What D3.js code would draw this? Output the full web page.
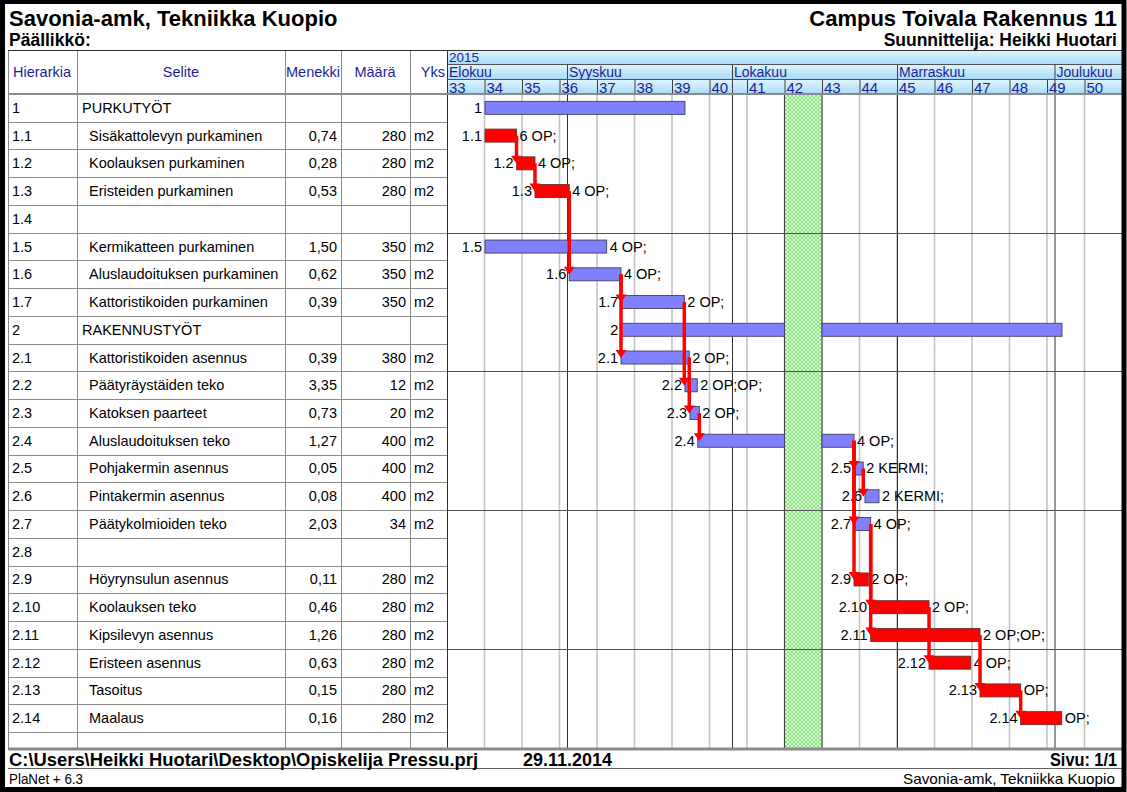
<!DOCTYPE html>
<html><head><meta charset="utf-8">
<script src="https://cdn.jsdelivr.net/npm/d3@7"></script>
<style>
body{margin:0;background:#fff}
svg{display:block}
text{font-family:"Liberation Sans",Arial,Helvetica,sans-serif}
</style>
</head><body>
<svg id="c" width="1127" height="792"></svg>
<script>
// ---------- DATA ----------
const hierarchy = ["1","1.1","1.2","1.3","1.4","1.5","1.6","1.7","2","2.1","2.2","2.3","2.4","2.5","2.6","2.7","2.8","2.9","2.10","2.11","2.12","2.13","2.14"];
const descriptions = ["PURKUTYÖT","Sisäkattolevyn purkaminen","Koolauksen purkaminen","Eristeiden purkaminen","","Kermikatteen purkaminen","Aluslaudoituksen purkaminen","Kattoristikoiden purkaminen","RAKENNUSTYÖT","Kattoristikoiden asennus","Päätyräystäiden teko","Katoksen paarteet","Aluslaudoituksen teko","Pohjakermin asennus","Pintakermin asennus","Päätykolmioiden teko","","Höyrynsulun asennus","Koolauksen teko","Kipsilevyn asennus","Eristeen asennus","Tasoitus","Maalaus"];
const consumption = ["","0,74","0,28","0,53","","1,50","0,62","0,39","","0,39","3,35","0,73","1,27","0,05","0,08","2,03","","0,11","0,46","1,26","0,63","0,15","0,16"];
const quantities = ["","280","280","280","","350","350","350","","380","12","20","400","400","400","34","","280","280","280","280","280","280"];
const units = ["","m2","m2","m2","","m2","m2","m2","","m2","m2","m2","m2","m2","m2","m2","","m2","m2","m2","m2","m2","m2"];
const summaryRows = ["1","2"];
// bar start / end in working days counted from Monday of week 33
const barStart = [5.07,5.07,9.29,11.73,null,5.07,16.3,23.24,23.24,23.2,31.73,32.4,33.43,54.27,55.73,54.27,null,54.27,56.4,56.49,64.27,71.07,76.49];
const barEnd   = [31.73,9.27,11.73,16.3,null,21.29,23.2,31.64,82.0,32.3,33.37,33.64,54.27,55.5,57.6,56.49,null,56.17,64.27,71.07,69.83,76.49,81.96];
const barKind  = ["s","c","c","c","","n","n","n","s","n","n","n","n","n","n","n","","c","c","c","c","c","c"];
const rightLabels = ["","6 OP;","4 OP;","4 OP;","","4 OP;","4 OP;","2 OP;","","2 OP;","2 OP;OP;","2 OP;","4 OP;","2 KERMI;","2 KERMI;","4 OP;","","2 OP;","2 OP;","2 OP;OP;","4 OP;","OP;","OP;"];
const linkFrom = ["1.1","1.2","1.3","1.6","1.6","1.7","2.1","2.3","2.4","2.4","2.4","2.5","2.7","2.7","2.10","2.11","2.13"];
const linkTo   = ["1.2","1.3","1.6","1.7","2.1","2.2","2.3","2.4","2.5","2.7","2.9","2.6","2.10","2.11","2.12","2.13","2.14"];
const weeks = [33,34,35,36,37,38,39,40,41,42,43,44,45,46,47,48,49,50];
const monthNames = ["Elokuu","Syyskuu","Lokakuu","Marraskuu","Joulukuu"];
const monthStartDay = [0,16,38,60,81];
const yearLabel = "2015";
const holidayDays = [45,50];
const columnHeaders = ["Hierarkia","Selite","Menekki","Määrä","Yks"];

// ---------- LAYOUT ----------
const W = 1127, H = 792;
const svg = d3.select("#c");
const GX0 = 447, GX1 = 1122;
const HEAD_TOP = 50, BODY_TOP = 94, ROW_H = 27.74, BODY_BOT = 748;
const colX = [8, 77, 285, 341, 410, 447];
const navy = "#1e1e96";

const x = d3.scaleLinear().domain([0, weeks.length * 5]).range([GX0, GX1]);
const y = d3.scaleBand().domain(hierarchy).range([BODY_TOP, BODY_TOP + hierarchy.length * ROW_H]);
const yc = id => y(id) + y.bandwidth() / 2;
const rows = hierarchy.map((h, i) => ({
  id: h, desc: descriptions[i], men: consumption[i], qty: quantities[i], unit: units[i],
  s: barStart[i], e: barEnd[i], kind: barKind[i], rl: rightLabels[i]
}));

const defs = svg.append("defs");
const gr = defs.append("linearGradient").attr("id","hdr").attr("x1",0).attr("y1",0).attr("x2",0).attr("y2",1);
gr.append("stop").attr("offset","0%").attr("stop-color","#e2f5fe");
gr.append("stop").attr("offset","100%").attr("stop-color","#a9dcf7");
const pat = defs.append("pattern").attr("id","hatch").attr("width",4).attr("height",4).attr("patternUnits","userSpaceOnUse");
pat.append("rect").attr("width",4).attr("height",4).attr("fill","#d4fad0");
pat.append("path").attr("d","M0,0L4,4M4,0L0,4").attr("stroke","#86e07e").attr("stroke-width",0.9);
defs.append("clipPath").attr("id","selClip").append("rect").attr("x",colX[1]).attr("y",BODY_TOP).attr("width",colX[2]-colX[1]-1).attr("height",700);

svg.append("rect").attr("width",W).attr("height",H).attr("fill","#fff");

// ---------- TITLES ----------
svg.append("text").attr("x",9).attr("y",26).attr("font-size",22).attr("font-weight","bold").text("Savonia-amk, Tekniikka Kuopio");
svg.append("text").attr("x",9).attr("y",46).attr("font-size",17.5).attr("font-weight","bold").text("Päällikkö:");
svg.append("text").attr("x",1117).attr("y",26).attr("text-anchor","end").attr("font-size",22).attr("font-weight","bold").text("Campus Toivala Rakennus 11");
svg.append("text").attr("x",1117).attr("y",46).attr("text-anchor","end").attr("font-size",17.5).attr("font-weight","bold").text("Suunnittelija: Heikki Huotari");

// ---------- TABLE HEADER ----------
const hdrCenters = [42, 181, 313, 375, 445];
svg.append("g").selectAll("text.colh").data(columnHeaders).join("text").attr("class","colh")
  .attr("x",(d,i)=> hdrCenters[i]).attr("y",77)
  .attr("text-anchor",(d,i)=> i===4 ? "end" : "middle")
  .attr("font-size",14.5).attr("fill",navy).text(d=>d);

// ---------- GANTT HEADER ----------
const gh = svg.append("g");
[[50,64],[64,79],[79,94]].forEach(r => gh.append("rect").attr("x",GX0).attr("y",r[0]).attr("width",GX1-GX0).attr("height",r[1]-r[0]).attr("fill","url(#hdr)"));
gh.append("text").attr("x",GX0+2).attr("y",62).attr("font-size",13.5).attr("fill",navy).text(yearLabel);
gh.selectAll("text.mon").data(monthNames).join("text").attr("class","mon")
  .attr("x",(d,i)=>x(monthStartDay[i])+2).attr("y",77).attr("font-size",14).attr("fill",navy).text(d=>d);
gh.selectAll("text.wk").data(weeks).join("text").attr("class","wk")
  .attr("x",(d,i)=>x(i*5)+2).attr("y",92.5).attr("font-size",15).attr("fill",navy).text(d=>d);
gh.selectAll("line.wkl").data(weeks).join("line").attr("class","wkl")
  .attr("x1",(d,i)=>x(i*5)+0.5).attr("x2",(d,i)=>x(i*5)+0.5).attr("y1",79).attr("y2",94)
  .attr("stroke","#404040").attr("stroke-width",1);
gh.selectAll("line.mnl").data(monthStartDay).join("line").attr("class","mnl")
  .attr("x1",d=>x(d)+0.5).attr("x2",d=>x(d)+0.5).attr("y1",64).attr("y2",94)
  .attr("stroke","#404040").attr("stroke-width",1);
[64,79].forEach(yy => gh.append("line").attr("x1",GX0).attr("x2",GX1).attr("y1",yy+0.5).attr("y2",yy+0.5).attr("stroke","#505050"));

// ---------- GANTT BODY GRID ----------
const gb = svg.append("g");
gb.append("rect").attr("x",x(holidayDays[0])).attr("y",BODY_TOP).attr("width",x(holidayDays[1])-x(holidayDays[0])).attr("height",BODY_BOT-BODY_TOP).attr("fill","url(#hatch)");
gb.selectAll("line.wg").data(weeks.slice(1)).join("line").attr("class","wg")
  .attr("x1",(d,i)=>x((i+1)*5)).attr("x2",(d,i)=>x((i+1)*5)).attr("y1",BODY_TOP).attr("y2",BODY_BOT)
  .attr("stroke","#c4c4c4").attr("stroke-width",1.6);
gb.selectAll("line.mg").data(monthStartDay.slice(1)).join("line").attr("class","mg")
  .attr("x1",d=>x(d)+0.5).attr("x2",d=>x(d)+0.5).attr("y1",BODY_TOP).attr("y2",BODY_BOT)
  .attr("stroke","#303030").attr("stroke-width",1);
holidayDays.forEach(d => gb.append("line").attr("x1",x(d)).attr("x2",x(d)).attr("y1",BODY_TOP).attr("y2",BODY_BOT).attr("stroke","#404040").attr("stroke-width",1));
const fifth = hierarchy.filter((h,i)=> i>0 && i%5===0);
gb.selectAll("line.hg").data(fifth).join("line").attr("class","hg")
  .attr("x1",GX0).attr("x2",GX1).attr("y1",d=>Math.round(y(d))+0.5).attr("y2",d=>Math.round(y(d))+0.5)
  .attr("stroke","#505050").attr("stroke-width",1);

// ---------- TABLE BODY GRID ----------
const tb = svg.append("g");
tb.selectAll("line.rl").data(hierarchy.slice(1).concat(["__end"])).join("line").attr("class","rl")
  .attr("x1",colX[0]).attr("x2",GX0)
  .attr("y1",(d,i)=>Math.round(BODY_TOP + (i+1)*ROW_H)+0.5).attr("y2",(d,i)=>Math.round(BODY_TOP + (i+1)*ROW_H)+0.5)
  .attr("stroke","#8a8a8a").attr("stroke-width",1);
tb.selectAll("line.cl").data(colX.slice(0,5)).join("line").attr("class","cl")
  .attr("x1",d=>d+0.5).attr("x2",d=>d+0.5).attr("y1",HEAD_TOP).attr("y2",BODY_BOT)
  .attr("stroke","#8a8a8a").attr("stroke-width",1);
tb.append("line").attr("x1",GX0+0.5).attr("x2",GX0+0.5).attr("y1",HEAD_TOP).attr("y2",BODY_BOT).attr("stroke","#303030");
tb.append("line").attr("x1",colX[0]).attr("x2",GX1).attr("y1",HEAD_TOP+0.5).attr("y2",HEAD_TOP+0.5).attr("stroke","#303030").attr("stroke-width",1.2);
tb.append("line").attr("x1",colX[0]).attr("x2",GX1).attr("y1",BODY_TOP).attr("y2",BODY_TOP).attr("stroke","#8a8a8a").attr("stroke-width",2);

// ---------- TABLE TEXT ----------
const tt = svg.append("g").attr("font-size",14.5).attr("fill","#000");
tt.selectAll("text.h").data(rows).join("text").attr("class","h")
  .attr("x",12).attr("y",d=>yc(d.id)+5).text(d=>d.id);
tt.append("g").attr("clip-path","url(#selClip)").selectAll("text.d").data(rows).join("text").attr("class","d")
  .attr("x",d=> summaryRows.includes(d.id) ? 82 : 89).attr("y",d=>yc(d.id)+5).text(d=>d.desc);
tt.selectAll("text.m").data(rows).join("text").attr("class","m")
  .attr("x",337).attr("y",d=>yc(d.id)+5).attr("text-anchor","end").text(d=>d.men);
tt.selectAll("text.q").data(rows).join("text").attr("class","q")
  .attr("x",406).attr("y",d=>yc(d.id)+5).attr("text-anchor","end").text(d=>d.qty);
tt.selectAll("text.u").data(rows).join("text").attr("class","u")
  .attr("x",414).attr("y",d=>yc(d.id)+5).text(d=>d.unit);

// ---------- BARS ----------
function segments(s, e) {
  if (e <= holidayDays[0] || s >= holidayDays[1]) return [[s, e]];
  const out = [];
  if (s < holidayDays[0]) out.push([s, holidayDays[0]]);
  if (e > holidayDays[1]) out.push([holidayDays[1], e]);
  return out;
}
const barRows = rows.filter(d => d.kind);
const segs = [];
barRows.forEach(d => segments(d.s, d.e).forEach(sg => segs.push({id:d.id, kind:d.kind, s:sg[0], e:sg[1]})));
const BH = 13;
svg.append("g").selectAll("rect").data(segs).join("rect")
  .attr("x",d=>x(d.s)).attr("width",d=>x(d.e)-x(d.s))
  .attr("y",d=>yc(d.id)-BH/2).attr("height",BH)
  .attr("fill",d=> d.kind==="c" ? "#ff0000" : "#8080ff")
  .attr("stroke",d=> d.kind==="c" ? "#6a3030" : "#404060").attr("stroke-width",0.9);

// ---------- BAR LABELS ----------
const bl = svg.append("g").attr("font-size",14.5).attr("fill","#000");
bl.selectAll("text.l").data(barRows).join("text").attr("class","l")
  .attr("x",d=>x(d.s)-3).attr("y",d=>yc(d.id)+5).attr("text-anchor","end").text(d=>d.id);
bl.selectAll("text.r").data(barRows.filter(d=>d.rl)).join("text").attr("class","r")
  .attr("x",d=>x(d.e)+3).attr("y",d=>yc(d.id)+5).text(d=>d.rl);

// ---------- LINKS ----------
const byId = Object.fromEntries(rows.map(r=>[r.id,r]));
const links = linkFrom.map((f,i)=>({from:byId[f], to:byId[linkTo[i]]}));
const lg = svg.append("g");
lg.selectAll("line").data(links).join("line")
  .attr("x1",d=>x(d.from.e)).attr("x2",d=>x(d.from.e))
  .attr("y1",d=>yc(d.from.id)).attr("y2",d=>yc(d.to.id)-BH/2)
  .attr("stroke","#ff0000").attr("stroke-width",3.5);
lg.selectAll("path").data(links).join("path")
  .attr("d",d=>{const cx=x(d.from.e), t=yc(d.to.id)-BH/2; return `M${cx-5.5},${t-1}L${cx+5.5},${t-1}L${cx},${t+7}Z`;})
  .attr("fill","#ff0000");

// ---------- FOOTER ----------
svg.append("line").attr("x1",colX[0]).attr("x2",GX1).attr("y1",BODY_BOT+1).attr("y2",BODY_BOT+1).attr("stroke","#8a8a8a").attr("stroke-width",3);
svg.append("line").attr("x1",colX[0]).attr("x2",GX1).attr("y1",768.5).attr("y2",768.5).attr("stroke","#606060").attr("stroke-width",1);
svg.append("text").attr("x",9).attr("y",766).attr("font-size",18).attr("font-weight","bold")
  .attr("textLength",469).attr("lengthAdjust","spacingAndGlyphs").text("C:\\Users\\Heikki Huotari\\Desktop\\Opiskelija Pressu.prj");
svg.append("text").attr("x",523).attr("y",766).attr("font-size",18).attr("font-weight","bold")
  .attr("textLength",89).attr("lengthAdjust","spacingAndGlyphs").text("29.11.2014");
svg.append("text").attr("x",1050).attr("y",766).attr("font-size",18).attr("font-weight","bold")
  .attr("textLength",67).attr("lengthAdjust","spacingAndGlyphs").text("Sivu: 1/1");
svg.append("text").attr("x",9).attr("y",784).attr("font-size",15)
  .attr("textLength",74).attr("lengthAdjust","spacingAndGlyphs").text("PlaNet + 6.3");
svg.append("text").attr("x",903).attr("y",784).attr("font-size",15)
  .attr("textLength",212).attr("lengthAdjust","spacingAndGlyphs").text("Savonia-amk, Tekniikka Kuopio");

// ---------- FRAME ----------
svg.append("rect").attr("x",2.5).attr("y",1.5).attr("width",1121.5).attr("height",788).attr("fill","none").attr("stroke","#000").attr("stroke-width",5);
</script>
</body></html>
